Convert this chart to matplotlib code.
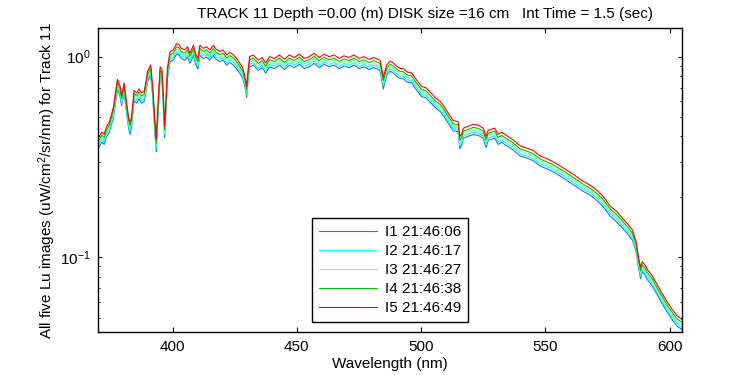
import matplotlib
matplotlib.use('Agg')
import matplotlib.pyplot as plt
from matplotlib.ticker import LogLocator, NullLocator

plt.rcParams['font.family'] = ['Liberation Sans Narrow', 'Liberation Sans', 'DejaVu Sans']
plt.rcParams['mathtext.default'] = 'regular'

# wavelength grid (nm)
wl = [370.5, 371.5, 372.5, 373.5, 374.5, 375.5, 376.2, 377.0, 377.8, 378.8,
      379.5, 380.5, 381.5, 382.3, 382.9, 383.5, 384.5, 385.5, 386.5, 387.5,
      388.5, 389.3, 389.9, 391.2, 392.0, 392.7, 393.4, 394.3, 395.0, 395.7,
      396.3, 396.8, 397.4, 398.0, 399.0, 400.3, 401.6, 402.5, 403.5, 405.0,
      406.0, 407.0, 408.4, 409.3, 410.2, 411.0, 412.3, 413.7, 415.0, 416.4,
      417.5, 419.0, 420.3, 421.8, 423.0, 424.5, 426.0, 427.0, 428.2, 429.2,
      429.8, 430.4, 431.0, 432.5, 434.5, 436.0, 437.5, 439.0, 441.0, 443.0,
      445.0, 447.0, 449.0, 451.0, 453.0, 455.0, 457.0, 459.0, 461.0, 463.0,
      465.0, 467.0, 469.0, 471.0, 473.0, 475.0, 477.0, 479.0, 481.0, 483.5,
      484.8, 486.2, 487.5, 488.8, 490.0, 491.5, 493.0, 494.2, 496.2, 498.2,
      500.2, 502.0, 502.9, 504.9, 506.0, 507.6, 509.0, 510.2, 512.0, 512.9,
      514.9, 515.6, 516.3, 517.0, 519.0, 521.0, 523.0, 525.0, 526.1, 527.0,
      529.7, 531.0, 532.4, 535.0, 537.0, 539.8, 542.5, 545.2, 547.9, 550.6,
      553.0, 556.0, 559.0, 562.0, 565.0, 568.0, 570.7, 573.4, 576.1, 578.7,
      581.0, 583.0, 585.0, 586.5, 587.5, 588.3, 589.0, 590.0, 591.0, 593.0,
      595.0, 597.0, 599.0, 601.0, 603.0, 605.0]

i5 = [0.40, 0.42, 0.41, 0.45, 0.47, 0.52, 0.56, 0.66, 0.77, 0.72,
      0.64, 0.74, 0.59, 0.50, 0.47, 0.50, 0.68, 0.66, 0.69, 0.66,
      0.67, 0.75, 0.84, 0.91, 0.71, 0.52, 0.385, 0.63, 0.89, 0.87,
      0.63, 0.45, 0.63, 0.89, 1.06, 1.08, 1.16, 1.15, 1.10, 1.08,
      1.12, 1.04, 1.14, 1.03, 0.98, 1.14, 1.10, 1.12, 1.08, 1.14,
      1.09, 1.06, 1.08, 1.02, 1.05, 1.02, 0.97, 0.93, 0.88, 0.79,
      0.71, 0.86, 1.00, 1.02, 0.96, 0.99, 0.93, 1.00, 0.98, 1.02,
      0.97, 1.02, 0.99, 1.03, 0.98, 1.00, 1.04, 0.99, 1.03, 1.00,
      1.02, 0.98, 1.01, 0.99, 1.02, 0.98, 1.00, 0.97, 0.99, 0.96,
      0.79, 0.91, 0.95, 0.93, 0.90, 0.875, 0.87, 0.84, 0.83, 0.765,
      0.71, 0.70, 0.68, 0.64, 0.62, 0.60, 0.57, 0.54, 0.50, 0.48,
      0.475, 0.40, 0.41, 0.44, 0.45, 0.46, 0.455, 0.44, 0.40, 0.43,
      0.44, 0.41, 0.42, 0.40, 0.385, 0.36, 0.35, 0.34, 0.32, 0.31,
      0.30, 0.285, 0.27, 0.255, 0.24, 0.229, 0.216, 0.20, 0.18, 0.169,
      0.157, 0.147, 0.137, 0.12, 0.10, 0.089, 0.095, 0.092, 0.087, 0.081,
      0.073, 0.066, 0.060, 0.055, 0.051, 0.049]

i4 = [0.386, 0.405, 0.396, 0.434, 0.454, 0.502, 0.540, 0.637, 0.743, 0.695,
      0.618, 0.714, 0.569, 0.483, 0.452, 0.483, 0.656, 0.637, 0.666, 0.637,
      0.647, 0.724, 0.811, 0.878, 0.685, 0.500, 0.370, 0.608, 0.859, 0.840,
      0.608, 0.433, 0.608, 0.859, 1.023, 1.042, 1.119, 1.110, 1.062, 1.042,
      1.081, 1.004, 1.100, 0.994, 0.944, 1.100, 1.062, 1.081, 1.042, 1.100,
      1.052, 1.023, 1.042, 0.984, 1.013, 0.984, 0.936, 0.897, 0.849, 0.762,
      0.683, 0.830, 0.965, 0.984, 0.926, 0.955, 0.897, 0.965, 0.946, 0.984,
      0.936, 0.984, 0.955, 0.994, 0.946, 0.965, 1.004, 0.955, 0.994, 0.965,
      0.984, 0.946, 0.975, 0.955, 0.984, 0.946, 0.965, 0.936, 0.955, 0.926,
      0.760, 0.878, 0.917, 0.897, 0.869, 0.844, 0.840, 0.811, 0.801, 0.738,
      0.685, 0.676, 0.656, 0.618, 0.598, 0.579, 0.550, 0.521, 0.483, 0.463,
      0.458, 0.384, 0.394, 0.425, 0.434, 0.444, 0.439, 0.425, 0.385, 0.415,
      0.425, 0.396, 0.405, 0.386, 0.372, 0.347, 0.338, 0.328, 0.309, 0.299,
      0.290, 0.275, 0.261, 0.246, 0.232, 0.221, 0.208, 0.193, 0.174, 0.163,
      0.152, 0.142, 0.132, 0.116, 0.0965, 0.0855, 0.0917, 0.0888, 0.0840, 0.0782,
      0.0704, 0.0637, 0.0579, 0.0531, 0.0492, 0.0473]

i3 = [0.376, 0.395, 0.385, 0.423, 0.442, 0.489, 0.526, 0.620, 0.724, 0.677,
      0.602, 0.696, 0.555, 0.470, 0.440, 0.470, 0.639, 0.620, 0.649, 0.620,
      0.630, 0.705, 0.790, 0.855, 0.667, 0.485, 0.360, 0.592, 0.837, 0.818,
      0.592, 0.421, 0.592, 0.837, 0.996, 1.015, 1.090, 1.081, 1.034, 1.015,
      1.053, 0.978, 1.072, 0.968, 0.918, 1.072, 1.034, 1.053, 1.015, 1.072,
      1.025, 0.996, 1.015, 0.959, 0.987, 0.959, 0.912, 0.874, 0.827, 0.743,
      0.664, 0.808, 0.940, 0.959, 0.902, 0.931, 0.874, 0.940, 0.921, 0.959,
      0.912, 0.959, 0.931, 0.968, 0.921, 0.940, 0.978, 0.931, 0.968, 0.940,
      0.959, 0.921, 0.949, 0.931, 0.959, 0.921, 0.940, 0.912, 0.931, 0.902,
      0.738, 0.855, 0.893, 0.874, 0.846, 0.823, 0.818, 0.790, 0.780, 0.719,
      0.667, 0.658, 0.639, 0.602, 0.583, 0.564, 0.536, 0.508, 0.470, 0.451,
      0.447, 0.372, 0.383, 0.414, 0.423, 0.432, 0.428, 0.414, 0.374, 0.404,
      0.414, 0.385, 0.395, 0.376, 0.362, 0.338, 0.329, 0.320, 0.301, 0.291,
      0.282, 0.268, 0.254, 0.240, 0.226, 0.215, 0.203, 0.188, 0.169, 0.159,
      0.148, 0.138, 0.129, 0.113, 0.0940, 0.0830, 0.0893, 0.0865, 0.0818, 0.0761,
      0.0686, 0.0620, 0.0564, 0.0517, 0.0479, 0.0461]

i2 = [0.366, 0.384, 0.375, 0.412, 0.430, 0.476, 0.512, 0.604, 0.705, 0.659,
      0.586, 0.677, 0.540, 0.455, 0.425, 0.457, 0.622, 0.604, 0.631, 0.604,
      0.613, 0.686, 0.769, 0.833, 0.650, 0.470, 0.348, 0.576, 0.814, 0.796,
      0.576, 0.408, 0.576, 0.814, 0.970, 0.988, 1.061, 1.052, 1.007, 0.988,
      1.025, 0.952, 1.043, 0.942, 0.893, 1.043, 1.007, 1.025, 0.988, 1.043,
      0.997, 0.970, 0.988, 0.933, 0.961, 0.933, 0.888, 0.851, 0.805, 0.723,
      0.645, 0.787, 0.915, 0.933, 0.878, 0.906, 0.851, 0.915, 0.897, 0.933,
      0.888, 0.933, 0.906, 0.942, 0.897, 0.915, 0.952, 0.906, 0.942, 0.915,
      0.933, 0.897, 0.924, 0.906, 0.933, 0.897, 0.915, 0.888, 0.906, 0.878,
      0.715, 0.833, 0.869, 0.851, 0.824, 0.801, 0.796, 0.769, 0.759, 0.700,
      0.650, 0.641, 0.622, 0.586, 0.567, 0.549, 0.522, 0.494, 0.458, 0.439,
      0.435, 0.360, 0.371, 0.403, 0.412, 0.421, 0.416, 0.403, 0.363, 0.393,
      0.403, 0.375, 0.384, 0.366, 0.352, 0.329, 0.320, 0.311, 0.293, 0.284,
      0.275, 0.261, 0.247, 0.233, 0.220, 0.210, 0.198, 0.183, 0.165, 0.155,
      0.144, 0.135, 0.125, 0.110, 0.0915, 0.0805, 0.0869, 0.0842, 0.0796, 0.0741,
      0.0668, 0.0604, 0.0549, 0.0503, 0.0467, 0.0448]

i1 = [0.356, 0.374, 0.365, 0.400, 0.418, 0.463, 0.498, 0.587, 0.685, 0.641,
      0.570, 0.659, 0.525, 0.440, 0.410, 0.445, 0.605, 0.587, 0.614, 0.587,
      0.596, 0.668, 0.748, 0.810, 0.632, 0.455, 0.335, 0.561, 0.792, 0.774,
      0.561, 0.395, 0.561, 0.792, 0.943, 0.961, 1.032, 1.024, 0.979, 0.961,
      0.997, 0.926, 1.015, 0.917, 0.868, 1.015, 0.979, 0.997, 0.961, 1.015,
      0.970, 0.943, 0.961, 0.908, 0.935, 0.908, 0.863, 0.828, 0.783, 0.703,
      0.625, 0.765, 0.890, 0.908, 0.854, 0.881, 0.828, 0.890, 0.872, 0.908,
      0.863, 0.908, 0.881, 0.917, 0.872, 0.890, 0.926, 0.881, 0.917, 0.890,
      0.908, 0.872, 0.899, 0.881, 0.908, 0.872, 0.890, 0.863, 0.881, 0.854,
      0.690, 0.810, 0.846, 0.828, 0.801, 0.779, 0.774, 0.748, 0.739, 0.681,
      0.632, 0.623, 0.605, 0.570, 0.552, 0.534, 0.507, 0.481, 0.445, 0.427,
      0.423, 0.348, 0.360, 0.392, 0.401, 0.409, 0.405, 0.392, 0.352, 0.383,
      0.392, 0.365, 0.374, 0.356, 0.343, 0.320, 0.312, 0.303, 0.285, 0.276,
      0.267, 0.254, 0.240, 0.227, 0.214, 0.204, 0.192, 0.178, 0.160, 0.150,
      0.140, 0.131, 0.122, 0.107, 0.0890, 0.0780, 0.0846, 0.0819, 0.0774, 0.0721,
      0.0650, 0.0587, 0.0534, 0.0490, 0.0454, 0.0436]

labels = ['I1 21:46:06', 'I2 21:46:17', 'I3 21:46:27', 'I4 21:46:38', 'I5 21:46:49']
colors = ['#1c74e6', '#00ffff', '#80ff80', '#00c000', '#ff0000']
series = [i1, i2, i3, i4, i5]

fig = plt.figure(figsize=(7.5, 3.75), dpi=100)
ax = fig.add_axes([0.1307, 0.1147, 0.7787, 0.8107])

for y, lab, col in zip(series, labels, colors):
    ax.plot(wl, y, color=col, lw=0.8, label=lab)

ax.set_yscale('log')
ax.set_xlim(370, 605)
ax.set_ylim(0.0424, 1.39)
ax.set_xticks([400, 450, 500, 550, 600])
ax.xaxis.set_minor_locator(NullLocator())
ax.yaxis.set_major_locator(LogLocator(base=10, numticks=10))
ax.yaxis.set_minor_locator(LogLocator(base=10, subs=range(2, 10), numticks=20))

ax.tick_params(which='both', direction='in', top=True, right=True, labelsize=11)
ax.tick_params(axis='x', which='major', length=3.6, pad=6)
ax.tick_params(axis='y', which='major', length=3.0, pad=5)
ax.tick_params(axis='y', which='minor', length=1.7)
for s in ax.spines.values():
    s.set_linewidth(1.0)

ax.set_xlabel('Wavelength (nm)', fontsize=11, labelpad=2)
ax.set_ylabel('All five Lu images (uW/cm$^2$/sr/nm) for Track 11', fontsize=11)
ax.yaxis.set_label_coords(-0.068, 0.5)
ax.set_title('TRACK 11 Depth =0.00 (m) DISK size =16 cm   Int Time = 1.5 (sec)',
             fontsize=11, x=0.56, pad=7)

leg = ax.legend(loc='lower center', bbox_to_anchor=(0.5, 0.033), fontsize=11,
                fancybox=False, edgecolor='black', framealpha=1,
                handlelength=3.8, handletextpad=0.5, labelspacing=0.33,
                borderpad=0.45, borderaxespad=0)
leg.get_frame().set_linewidth(1.0)

fig.savefig('out.png', dpi=100)
